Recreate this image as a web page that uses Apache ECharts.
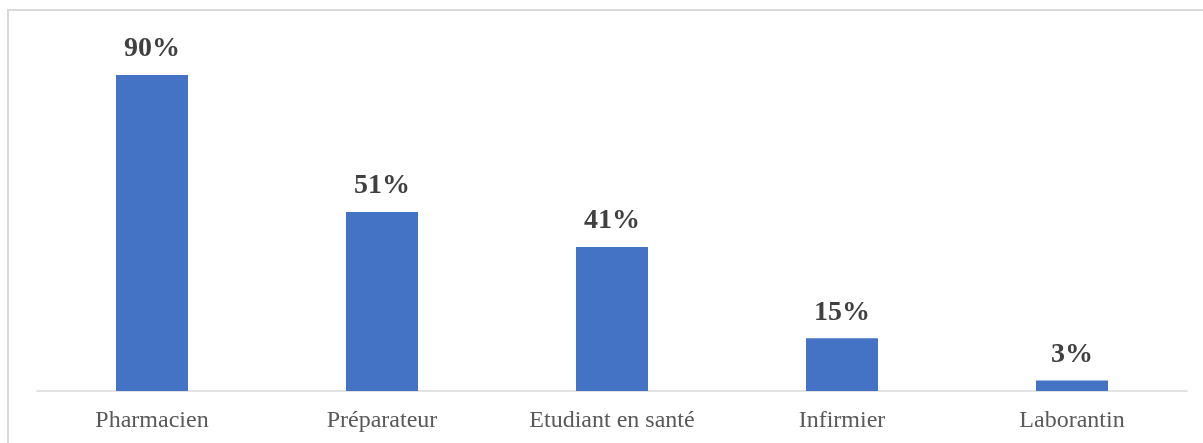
<!DOCTYPE html>
<html>
<head>
<meta charset="utf-8">
<script src="https://cdn.jsdelivr.net/npm/echarts@6/dist/echarts.min.js"></script>
<style>
  html, body { margin: 0; padding: 0; background: #fff; }
  #chart { width: 1203px; height: 443px; }
</style>
</head>
<body>
<div id="chart"></div>
<script>
// catégories et pourcentages
const categories = ['Pharmacien', 'Préparateur', 'Etudiant en santé', 'Infirmier', 'Laborantin']
const values = [90, 51, 41, 15, 3]

const chart = echarts.init(document.getElementById('chart'))
chart.setOption({
  animation: false,
  graphic: [
    // cadre gris (haut et gauche)
    { type: 'line', shape: { x1: 7, y1: 10, x2: 1203, y2: 10 }, style: { stroke: '#d9d9d9', lineWidth: 2 } },
    { type: 'line', shape: { x1: 8, y1: 10, x2: 8, y2: 443 }, style: { stroke: '#d9d9d9', lineWidth: 2 } }
  ],
  grid: {
    left: 37,
    right: 16,
    top: 40,
    bottom: 52
  },
  xAxis: {
    type: 'category',
    data: categories,
    axisTick: { show: false },
    axisLine: { lineStyle: { color: '#d9d9d9', width: 1.5 } },
    axisLabel: {
      color: '#595959',
      fontFamily: 'Liberation Serif',
      fontSize: 24,
      margin: 18
    }
  },
  yAxis: {
    type: 'value',
    min: 0,
    max: 100,
    show: false
  },
  series: [{
    type: 'bar',
    data: values,
    barWidth: 72,
    itemStyle: { color: '#4472c4' },
    label: {
      show: true,
      position: 'top',
      distance: 12,
      formatter: '{c}%',
      color: '#404040',
      fontFamily: 'Liberation Serif',
      fontWeight: 'bold',
      fontSize: 28
    }
  }]
})
</script>
</body>
</html>
